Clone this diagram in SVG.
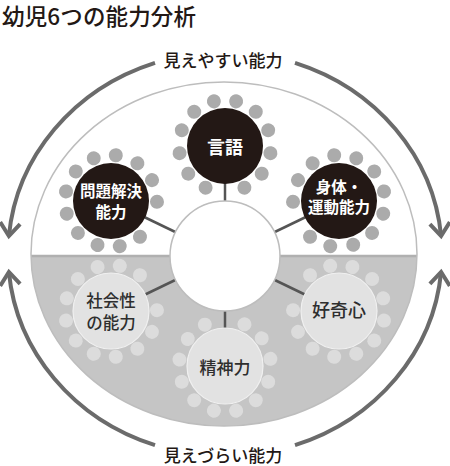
<svg xmlns="http://www.w3.org/2000/svg" width="450" height="466" viewBox="0 0 450 466">
<defs>
<style>
text{font-family:"Noto Sans CJK JP","Noto Sans CJK SC",sans-serif;text-anchor:middle;dominant-baseline:central}
.title{font-size:22.5px;font-weight:500;fill:#231815;text-anchor:start;dominant-baseline:auto}
.lbl{font-size:17px;font-weight:500;fill:#231815}
.arc{fill:none;stroke:#6b6b6b;stroke-width:4;marker-end:url(#ah)}
.conn{stroke:#555;stroke-width:2.5}
.dk .n{fill:#231815}
.dk .d{fill:#ababab}
.lt .n{fill:#e2e2e2;stroke:#f0f0f0;stroke-width:1.2}
.lt .d{fill:#dcdcdc}
.dk text{fill:#fff;font-weight:700;font-size:15.5px}
.lt text{fill:#2e2e2e;font-weight:500;font-size:17px}
</style>
<circle id="d" cx="46" cy="0" r="7"/>
<marker id="ah" viewBox="-17 -13 22 26" refX="0" refY="0" markerWidth="22" markerHeight="26" markerUnits="userSpaceOnUse" orient="auto">
<path d="M-13,-10 L0,0 L-13,10" fill="none" stroke="#6b6b6b" stroke-width="4" stroke-linejoin="miter"/>
</marker>
<clipPath id="ec"><ellipse cx="224" cy="254" rx="193" ry="172"/></clipPath>
</defs>

<text class="title" x="2" y="25" textLength="194" lengthAdjust="spacing">幼児6つの能力分析</text>

<g id="background">
<ellipse cx="224" cy="254" rx="193" ry="172" fill="#fff"/>
<rect x="20" y="256" width="410" height="180" fill="#c5c5c5" clip-path="url(#ec)"/>
<line x1="31" y1="256" x2="417" y2="256" stroke="#b0b0b0" stroke-width="2.5"/>
<ellipse cx="224" cy="254" rx="193" ry="172" fill="none" stroke="#bdbdbd" stroke-width="1.5"/>
</g>

<g id="outer-arrows">
<path class="arc" d="M155,62.8 A217,202 0 0 0 8.9,236"/>
<path class="arc" d="M295,62.8 A217,202 0 0 1 441.1,236"/>
<path class="arc" d="M155,445.2 A217,202 0 0 1 8.9,272"/>
<path class="arc" d="M295,445.2 A217,202 0 0 0 441.1,272"/>
<text class="lbl" x="223" y="59">見えやすい能力</text>
<text class="lbl" x="223" y="454">見えづらい能力</text>
</g>

<g id="connectors">
<line class="conn" x1="225" y1="256" x2="225" y2="146"/>
<line class="conn" x1="225" y1="256" x2="111" y2="201"/>
<line class="conn" x1="225" y1="256" x2="339" y2="201"/>
<line class="conn" x1="225" y1="256" x2="111" y2="311"/>
<line class="conn" x1="225" y1="256" x2="339" y2="311"/>
<line class="conn" x1="225" y1="256" x2="225" y2="366"/>
</g>

<g id="center">
<circle cx="225" cy="256" r="55" fill="#fff" stroke="#bdbdbd" stroke-width="1.5"/>
</g>

<g id="node-gengo" class="dk">
<use class="d" href="#d" transform="translate(225 146) rotate(115)"/>
<use class="d" href="#d" transform="translate(225 146) rotate(143)"/>
<use class="d" href="#d" transform="translate(225 146) rotate(171)"/>
<use class="d" href="#d" transform="translate(225 146) rotate(200)"/>
<use class="d" href="#d" transform="translate(225 146) rotate(228)"/>
<use class="d" href="#d" transform="translate(225 146) rotate(256)"/>
<use class="d" href="#d" transform="translate(225 146) rotate(284)"/>
<use class="d" href="#d" transform="translate(225 146) rotate(312)"/>
<use class="d" href="#d" transform="translate(225 146) rotate(340)"/>
<use class="d" href="#d" transform="translate(225 146) rotate(9)"/>
<use class="d" href="#d" transform="translate(225 146) rotate(37)"/>
<use class="d" href="#d" transform="translate(225 146) rotate(65)"/>
<circle class="n" cx="225" cy="146" r="38"/>
<text x="225" y="146" style="font-size:18px">言語</text>
</g>

<g id="node-mondai" class="dk">
<use class="d" href="#d" transform="translate(111 201) rotate(51)"/>
<use class="d" href="#d" transform="translate(111 201) rotate(79)"/>
<use class="d" href="#d" transform="translate(111 201) rotate(107)"/>
<use class="d" href="#d" transform="translate(111 201) rotate(136)"/>
<use class="d" href="#d" transform="translate(111 201) rotate(164)"/>
<use class="d" href="#d" transform="translate(111 201) rotate(192)"/>
<use class="d" href="#d" transform="translate(111 201) rotate(220)"/>
<use class="d" href="#d" transform="translate(111 201) rotate(248)"/>
<use class="d" href="#d" transform="translate(111 201) rotate(276)"/>
<use class="d" href="#d" transform="translate(111 201) rotate(305)"/>
<use class="d" href="#d" transform="translate(111 201) rotate(333)"/>
<use class="d" href="#d" transform="translate(111 201) rotate(1)"/>
<circle class="n" cx="111" cy="201" r="38"/>
<text x="111" y="190">問題解決</text>
<text x="111" y="211">能力</text>
</g>

<g id="node-shintai" class="dk">
<use class="d" href="#d" transform="translate(339 201) rotate(179)"/>
<use class="d" href="#d" transform="translate(339 201) rotate(207)"/>
<use class="d" href="#d" transform="translate(339 201) rotate(235)"/>
<use class="d" href="#d" transform="translate(339 201) rotate(264)"/>
<use class="d" href="#d" transform="translate(339 201) rotate(292)"/>
<use class="d" href="#d" transform="translate(339 201) rotate(320)"/>
<use class="d" href="#d" transform="translate(339 201) rotate(348)"/>
<use class="d" href="#d" transform="translate(339 201) rotate(16)"/>
<use class="d" href="#d" transform="translate(339 201) rotate(44)"/>
<use class="d" href="#d" transform="translate(339 201) rotate(72)"/>
<use class="d" href="#d" transform="translate(339 201) rotate(101)"/>
<use class="d" href="#d" transform="translate(339 201) rotate(129)"/>
<circle class="n" cx="339" cy="201" r="38"/>
<text x="339" y="186">身体・</text>
<text x="339" y="206">運動能力</text>
</g>

<g id="node-shakai" class="lt">
<use class="d" href="#d" transform="translate(111 311) rotate(359)"/>
<use class="d" href="#d" transform="translate(111 311) rotate(27)"/>
<use class="d" href="#d" transform="translate(111 311) rotate(55)"/>
<use class="d" href="#d" transform="translate(111 311) rotate(84)"/>
<use class="d" href="#d" transform="translate(111 311) rotate(112)"/>
<use class="d" href="#d" transform="translate(111 311) rotate(140)"/>
<use class="d" href="#d" transform="translate(111 311) rotate(168)"/>
<use class="d" href="#d" transform="translate(111 311) rotate(196)"/>
<use class="d" href="#d" transform="translate(111 311) rotate(224)"/>
<use class="d" href="#d" transform="translate(111 311) rotate(253)"/>
<use class="d" href="#d" transform="translate(111 311) rotate(281)"/>
<use class="d" href="#d" transform="translate(111 311) rotate(309)"/>
<circle class="n" cx="111" cy="311" r="38"/>
<text x="111" y="299.5" style="font-size:16.5px">社会性</text>
<text x="111" y="321.5" style="font-size:16.5px">の能力</text>
</g>

<g id="node-kokishin" class="lt">
<use class="d" href="#d" transform="translate(339 311) rotate(231)"/>
<use class="d" href="#d" transform="translate(339 311) rotate(259)"/>
<use class="d" href="#d" transform="translate(339 311) rotate(287)"/>
<use class="d" href="#d" transform="translate(339 311) rotate(316)"/>
<use class="d" href="#d" transform="translate(339 311) rotate(344)"/>
<use class="d" href="#d" transform="translate(339 311) rotate(12)"/>
<use class="d" href="#d" transform="translate(339 311) rotate(40)"/>
<use class="d" href="#d" transform="translate(339 311) rotate(68)"/>
<use class="d" href="#d" transform="translate(339 311) rotate(96)"/>
<use class="d" href="#d" transform="translate(339 311) rotate(125)"/>
<use class="d" href="#d" transform="translate(339 311) rotate(153)"/>
<use class="d" href="#d" transform="translate(339 311) rotate(181)"/>
<circle class="n" cx="339" cy="311" r="38"/>
<text x="339" y="309" style="font-size:18px">好奇心</text>
</g>

<g id="node-seishin" class="lt">
<use class="d" href="#d" transform="translate(225 366) rotate(295)"/>
<use class="d" href="#d" transform="translate(225 366) rotate(323)"/>
<use class="d" href="#d" transform="translate(225 366) rotate(351)"/>
<use class="d" href="#d" transform="translate(225 366) rotate(20)"/>
<use class="d" href="#d" transform="translate(225 366) rotate(48)"/>
<use class="d" href="#d" transform="translate(225 366) rotate(76)"/>
<use class="d" href="#d" transform="translate(225 366) rotate(104)"/>
<use class="d" href="#d" transform="translate(225 366) rotate(132)"/>
<use class="d" href="#d" transform="translate(225 366) rotate(160)"/>
<use class="d" href="#d" transform="translate(225 366) rotate(188)"/>
<use class="d" href="#d" transform="translate(225 366) rotate(216)"/>
<use class="d" href="#d" transform="translate(225 366) rotate(244)"/>
<circle class="n" cx="225" cy="366" r="38"/>
<text x="225" y="366">精神力</text>
</g>
</svg>
